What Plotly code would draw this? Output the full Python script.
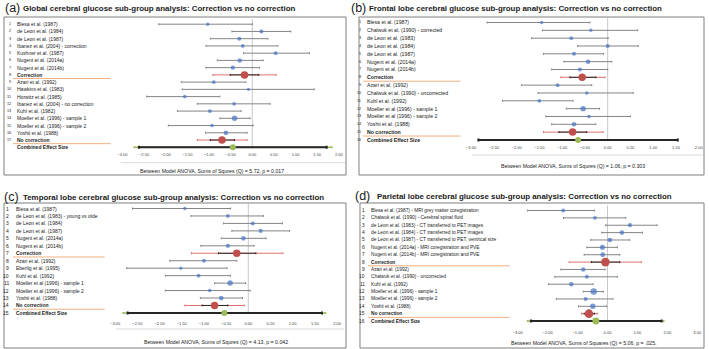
import plotly.graph_objects as go

W, H = 709, 349

# ---------------- DATA ----------------
# (a) Global
a_labels = ["Blesa et al. (1987)", "de Leon et al. (1984)", "de Leon et al. (1987)",
            "Ibanez et al. (2004) - correction", "Kushner et al. (1987)", "Nugent et al. (2014a)",
            "Nugent et al. (2014b)", "Correction", "Azari et al. (1992)", "Hawkins et al. (1983)",
            "Horwitz et al. (1985)", "Ibanez et al. (2004) - no correction", "Kuhl et al. (1982)",
            "Moeller et al. (1996) - sample 1", "Moeller et al. (1996) - sample 2",
            "Yoshii et al. (1988)", "No correction", "Combined Effect Size"]
a_eff = [-1.03, 0.21, -0.30, -0.22, 0.54, -0.29, -0.45, -0.18, -0.89, -0.09, -1.56, -0.42,
         -0.98, -0.41, -0.93, -0.61, -0.70, -0.45]
a_lo = [-2.16, -0.47, -0.97, -1.07, -0.20, -0.81, -1.07, -0.51, -1.64, -1.62, -2.44, -1.27,
        -1.73, -0.75, -1.94, -1.08, -0.97, -2.62]
a_hi = [0.00, 0.89, 0.36, 0.59, 1.32, 0.25, 0.17, 0.15, -0.15, 1.43, -0.75, 0.41,
        -0.26, -0.05, 0.02, -0.12, -0.41, 1.72]
a_summary = {8: (-0.91, 0.55), 17: (-1.27, -0.12)}
a_combined_outer = (-2.73, 1.84)
a_title = "Global cerebral glucose sub-group analysis: Correction vs no correction"
a_stat = "Between Model ANOVA, Sums of Squres (Q) = 5.72, p = 0.017"

# (b) Frontal
b_labels = ["Blesa et al. (1987)", "Chalwuk et al. (1990) - corrected", "de Leon et al. (1983)",
            "de Leon et al. (1984)", "de Leon et al. (1987)", "Nugent et al. (2014a)",
            "Nugent et al. (2014b)", "Correction", "Azari et al. (1992)",
            "Chalwuk et al. (1990) - uncorrected", "Kuhl et al. (1992)",
            "Moeller et al (1996) - sample 1", "Moeller et al (1996) - sample 2",
            "Yoshii et al. (1988)", "No correction", "Combined Effect Size"]
b_eff = [-1.45, -0.37, -0.80, 0.00, -0.74, -0.43, -0.61, -0.56, -1.10, -0.46, -1.50, -0.54,
         -0.41, -0.74, -0.77, -0.65]
b_lo = [-2.65, -1.43, -1.67, -0.66, -1.41, -0.96, -1.23, -0.83, -1.89, -1.53, -2.31, -0.91,
        -1.36, -1.23, -1.07, -2.84]
b_hi = [-0.39, 0.66, 0.01, 0.67, -0.09, 0.09, 0.00, -0.26, -0.35, 0.56, -0.76, -0.18,
        0.50, -0.26, -0.46, 1.54]
b_summary = {8: (-1.03, -0.06), 15: (-1.41, -0.10)}
b_combined_outer = None
b_title = "Frontal lobe cerebral glucose sub-group analysis: Correction vs no correction"
b_stat = "Between Model ANOVA, Sums of Squres (Q) = 1.06, p = 0.303"

# (c) Temporal
c_labels = ["Blesa et al. (1987)", "de Leon et al. (1983) - young vs olde", "de Leon et al. (1984)",
            "de Leon et al. (1987)", "Nugent et al. (2014a)", "Nugent et al. (2014b)",
            "Correction", "Azari et al. (1992)", "Eberlig et al. (1995)", "Kuhl et al. (1992)",
            "Moeller et al (1996) - sample 1", "Moeller et al (1996) - sample 2",
            "Yoshii et al. (1988)", "No correction", "Combined Effect Size"]
c_eff = [-1.43, -0.46, 0.10, 0.28, -0.11, -0.46, -0.26, -1.00, -1.52, -1.12, -0.41, -0.87,
         -0.61, -0.76, -0.54]
c_lo = [-2.61, -1.29, -0.56, -0.37, -0.61, -1.07, -0.67, -1.77, -2.74, -1.87, -0.76, -1.87,
        -1.08, -1.04, -2.72]
c_hi = [-0.40, 0.34, 0.77, 0.93, 0.40, 0.13, 0.17, -0.26, -0.48, -0.40, -0.06, 0.04,
        -0.13, -0.46, 1.66]
c_summary = {7: (-1.28, 0.78), 14: (-1.43, -0.09)}
c_combined_outer = (-2.82, 1.74)
c_title = "Temporal lobe cerebral glucose sub-group analysis: Correction vs no correction"
c_stat = "Between Model ANOVA, Sums of Squres (Q) = 4.13, p = 0.042"

# (d) Parietal
d_labels = ["Blesa et al. (1987) - MRI grey matter coregistration",
            "Chalwuk et al. (1990) - Cerebral spinal fluid",
            "de Leon et al. (1983) - CT transferred to PET images",
            "de Leon et al. (1984) - CT transferred to PET images",
            "de Leon et al. (1987) - CT transferred to PET, ventrical size",
            "Nugent et al. (2014a) - MRI coregistration and PVE",
            "Nugent et al. (2014b) - MRI coregistration and PVE",
            "Correction", "Azari et al. (1992)", "Chalwuk et al. (1990) - uncorrected",
            "Kuhl et al. (1992)", "Moeller et al. (1996) - sample 1",
            "Moeller et al. (1996) - sample 2", "Yoshii et al. (1988)", "No correction",
            "Combined Effect Size"]
d_eff = [-1.48, -0.42, 0.75, 0.48, 0.08, -0.17, -0.16, -0.07, -0.81, -0.69, -1.21, -0.46,
         -0.73, -0.49, -0.62, -0.39]
d_lo = [-2.67, -1.47, -0.06, -0.19, -0.56, -0.69, -0.78, -0.54, -1.56, -1.76, -1.97, -0.81,
        -1.71, -0.97, -0.78, -2.56]
d_hi = [-0.43, 0.61, 1.66, 1.17, 0.74, 0.33, 0.41, 0.41, -0.08, 0.33, -0.48, -0.14,
        0.18, -0.03, -0.43, 1.81]
d_summary = {8: (-1.28, 1.13), 15: (-0.87, -0.33)}
d_combined_outer = (-2.67, 1.88)
d_title = "Parietal lobe cerebral glucose sub-group analysis: Correction vs no correction"
d_stat = "Between Model ANOVA, Sums of Squares (Q) = 5.06, p = .025."

a_ticks = [-3.0, -2.5, -2.0, -1.5, -1.0, -0.5, 0.0, 0.5, 1.0, 1.5, 2.0]
d_ticks = [-3.0, -2.0, -1.0, 0.0, 1.0, 2.0, 3.0]

# ---------------- LAYOUT GEOMETRY (pixels) ----------------
panels = [
    dict(letter="(a)", title=a_title, stat=a_stat, labels=a_labels, eff=a_eff, lo=a_lo, hi=a_hi,
         summary=a_summary, comb=a_combined_outer, ticks=a_ticks, comb_num=False,
         zero=252, ppu=43.4, xl=115.3, xr=345.3, row1=24.2, step=7.24, top=19.1, axis=151,
         box=(3, 17, 346, 175), lx=2, tx=20, ty=8, numx=12.5, labx=14, nfs=3.8, lfs=5.0,
         orange=(12, 110), sep=(162.7, 120, 345), statc=(211.7, 171), msc=1.0),
    dict(letter="(b)", title=b_title, stat=b_stat, labels=b_labels, eff=b_eff, lo=b_lo, hi=b_hi,
         summary=b_summary, comb=b_combined_outer, ticks=a_ticks, comb_num=True,
         zero=608.4, ppu=45.66, xl=466.9, xr=703, row1=22.5, step=7.83, top=17.4, axis=144,
         box=(359, 17, 705, 175), lx=349, tx=367, ty=8, numx=363, labx=365, nfs=3.8, lfs=5.2,
         orange=(363, 461), sep=(155, 472, 704), statc=(574, 166), msc=1.0),
    dict(letter="(c)", title=c_title, stat=c_stat, labels=c_labels, eff=c_eff, lo=c_lo, hi=c_hi,
         summary=c_summary, comb=c_combined_outer, ticks=a_ticks, comb_num=True,
         zero=248, ppu=44.5, xl=107.8, xr=343.7, row1=208.5, step=7.46, top=203.3, axis=319.5,
         box=(3, 203, 346, 348), lx=1, tx=20, ty=196.5, numx=10, labx=13, nfs=5.0, lfs=5.0,
         orange=(12, 104), sep=(329, 115, 344), statc=(216, 341.7), msc=1.0),
    dict(letter="(d)", title=d_title, stat=d_stat, labels=d_labels, eff=d_eff, lo=d_lo, hi=d_hi,
         summary=d_summary, comb=d_combined_outer, ticks=d_ticks, comb_num=True,
         zero=608.2, ppu=30.0, xl=513.7, xr=702.7, row1=210.5, step=7.37, top=205.3, axis=329,
         box=(360, 203, 705, 348), lx=353, tx=375, ty=196, numx=367, labx=369.5, nfs=4.8, lfs=4.8,
         orange=(368, 510), sep=None, statc=(585, 343.3), msc=1.15),
]

BLUE = "#4472C4"
RED = "#C0504D"
GREEN = "#9BBB59"
GRAY = "#858585"
FONT = "Liberation Sans"

fig = go.Figure()
layout = dict(width=W, height=H, margin=dict(l=0, r=0, t=0, b=0),
              paper_bgcolor="white", plot_bgcolor="rgba(0,0,0,0)", showlegend=False)
shapes, annotations = [], []


def px_x(px):
    return px / W


def px_y(py):
    return 1 - py / H


for i, p in enumerate(panels):
    sfx = "" if i == 0 else str(i + 1)
    xn, yn = "x" + sfx, "y" + sfx
    n = len(p["labels"])
    rows = list(range(1, n + 1))
    top_val = 1 + (p["top"] - p["row1"]) / p["step"]
    bot_val = 1 + (p["axis"] - p["row1"]) / p["step"]
    layout["xaxis" + sfx] = dict(
        domain=[px_x(p["xl"]), px_x(p["xr"])],
        range=[(p["xl"] - p["zero"]) / p["ppu"], (p["xr"] - p["zero"]) / p["ppu"]],
        anchor=yn, tickvals=p["ticks"], tickformat=".2f", showgrid=False, zeroline=False,
        showline=False, ticks="", tickfont=dict(size=4, family=FONT, color="#404040"),
        fixedrange=True)
    layout["yaxis" + sfx] = dict(
        domain=[px_y(p["axis"]), px_y(p["top"])], range=[bot_val, top_val],
        anchor=xn, visible=False, fixedrange=True)

    # zero line
    shapes.append(dict(type="line", xref=xn, yref=yn, x0=0, x1=0, y0=top_val, y1=n + 0.15,
                       line=dict(color="#c8c8c8", width=1), layer="below"))

    summary_rows = set(p["summary"].keys())
    st_idx = [k for k in range(n - 1) if (k + 1) not in summary_rows]
    sx = [p["eff"][k] for k in st_idx]
    sy = [rows[k] for k in st_idx]
    widths = [p["hi"][k] - p["lo"][k] for k in st_idx]
    sizes = [max(3.0, min(6.5, (2.4 + 2.2 / w) * p["msc"])) for w in widths]
    fig.add_trace(go.Scatter(
        x=sx, y=sy, xaxis=xn, yaxis=yn, mode="markers",
        marker=dict(color=BLUE, size=sizes, line=dict(width=0)),
        error_x=dict(type="data", symmetric=False,
                     array=[p["hi"][k] - p["eff"][k] for k in st_idx],
                     arrayminus=[p["eff"][k] - p["lo"][k] for k in st_idx],
                     color=GRAY, thickness=1, width=1), hoverinfo="skip"))

    # subgroup summaries
    srows = sorted(summary_rows)
    fig.add_trace(go.Scatter(
        x=[p["eff"][r - 1] for r in srows], y=srows, xaxis=xn, yaxis=yn, mode="markers",
        marker=dict(color="rgba(0,0,0,0)", size=1),
        error_x=dict(type="data", symmetric=False,
                     array=[p["summary"][r][1] - p["eff"][r - 1] for r in srows],
                     arrayminus=[p["eff"][r - 1] - p["summary"][r][0] for r in srows],
                     color="#e07070", thickness=1, width=1), hoverinfo="skip"))
    fig.add_trace(go.Scatter(
        x=[p["eff"][r - 1] for r in srows], y=srows, xaxis=xn, yaxis=yn, mode="markers",
        marker=dict(color=RED, size=7.5 * p["msc"], line=dict(width=0)),
        error_x=dict(type="data", symmetric=False,
                     array=[p["hi"][r - 1] - p["eff"][r - 1] for r in srows],
                     arrayminus=[p["eff"][r - 1] - p["lo"][r - 1] for r in srows],
                     color="#262626", thickness=1, width=1), hoverinfo="skip"))

    # combined effect
    ce, cl, ch = p["eff"][-1], p["lo"][-1], p["hi"][-1]
    if p["comb"] is not None:
        fig.add_trace(go.Scatter(
            x=[ce], y=[n], xaxis=xn, yaxis=yn, mode="markers",
            marker=dict(color="rgba(0,0,0,0)", size=1),
            error_x=dict(type="data", symmetric=False, array=[p["comb"][1] - ce],
                         arrayminus=[ce - p["comb"][0]], color=GREEN, thickness=1.5, width=1),
            hoverinfo="skip"))
    fig.add_trace(go.Scatter(
        x=[ce], y=[n], xaxis=xn, yaxis=yn, mode="markers",
        marker=dict(color=GREEN, size=6 * p["msc"], line=dict(width=0)),
        error_x=dict(type="data", symmetric=False, array=[ch - ce], arrayminus=[ce - cl],
                     color="#262626", thickness=2, width=1.5), hoverinfo="skip"))

    # row labels
    for r, lab in zip(rows, p["labels"]):
        bold = (r in summary_rows) or r == n
        txt = "<b>%s</b>" % lab if bold else lab
        annotations.append(dict(x=px_x(p["labx"]), xref="paper", y=r, yref=yn, text=txt,
                                showarrow=False, xanchor="left", yanchor="middle",
                                font=dict(size=p["lfs"], family=FONT, color="#1a1a1a")))
        if r < n or p["comb_num"]:
            annotations.append(dict(x=px_x(p["numx"]), xref="paper", y=r, yref=yn, text=str(r),
                                    showarrow=False, xanchor="right", yanchor="middle",
                                    font=dict(size=p["nfs"], family=FONT, color="#1a1a1a")))
    for r in srows:
        shapes.append(dict(type="line", xref="paper", yref=yn, x0=px_x(p["orange"][0]),
                           x1=px_x(p["orange"][1]), y0=r + 0.5, y1=r + 0.5,
                           line=dict(color="#f4b183", width=1)))

    # frame
    bx0, by0, bx1, by1 = p["box"]
    shapes.append(dict(type="rect", xref="paper", yref="paper", x0=px_x(bx0), x1=px_x(bx1),
                       y0=px_y(by1), y1=px_y(by0), line=dict(color="#7f7f7f", width=1)))
    if p["sep"] is not None:
        sy_, sx0, sx1 = p["sep"]
        shapes.append(dict(type="line", xref="paper", yref="paper", x0=px_x(sx0), x1=px_x(sx1),
                           y0=px_y(sy_), y1=px_y(sy_), line=dict(color="#d9d9d9", width=1)))

    # titles
    annotations.append(dict(x=px_x(p["lx"]), y=px_y(p["ty"]), xref="paper", yref="paper",
                            text=p["letter"], showarrow=False, xanchor="left", yanchor="middle",
                            font=dict(size=12.5, family=FONT, color="#1a1a1a")))
    annotations.append(dict(x=px_x(p["tx"]), y=px_y(p["ty"] + 0.5), xref="paper", yref="paper",
                            text="<b>%s</b>" % p["title"], showarrow=False, xanchor="left",
                            yanchor="middle", font=dict(size=7.9, family=FONT, color="#1a1a1a")))
    annotations.append(dict(x=px_x(p["statc"][0]), y=px_y(p["statc"][1]), xref="paper",
                            yref="paper", text=p["stat"], showarrow=False, xanchor="center",
                            yanchor="middle", font=dict(size=5.2, family=FONT, color="#1a1a1a")))

layout["shapes"] = shapes
layout["annotations"] = annotations
fig.update_layout(**layout)
fig.write_html("out.html", config={"displayModeBar": False},
               post_script="document.body.style.margin='0px';")
